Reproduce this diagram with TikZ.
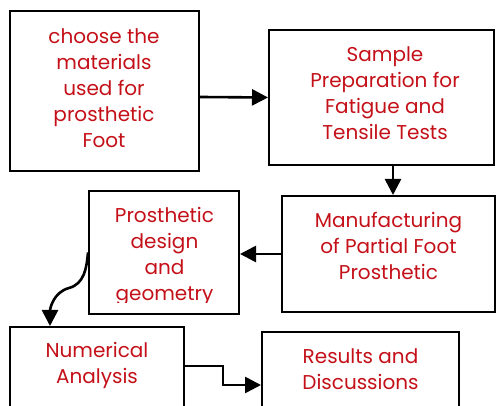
\documentclass[tikz,border=0pt]{standalone}
\usepackage{fontspec}
\setmainfont{Poppins}
\usetikzlibrary{arrows.meta,calc}
\definecolor{txtred}{RGB}{196,16,24}
\tikzset{
  boxnode/.style={draw=black,line width=2pt,rectangle,inner sep=0pt},
  lbl/.style={text=txtred,align=center,inner sep=0pt,anchor=base,
    font=\fontsize{20}{26}\selectfont},
  arr/.style={line width=2.6pt,-{Triangle[length=16pt,width=16pt]}}
}
\begin{document}
\begin{tikzpicture}[x=1pt,y=1pt]
\useasboundingbox (0,0) rectangle (496,406);
\clip (0,0) rectangle (496,406);
\node[boxnode,minimum width=189pt,minimum height=160pt] (b1) at (104.5,315) {};
\node[boxnode,minimum width=225pt,minimum height=135pt] (b2) at (381.5,308.5) {};
\node[boxnode,minimum width=213pt,minimum height=116pt] (b3) at (388.5,152) {};
\node[boxnode,minimum width=150pt,minimum height=123pt] (b4) at (164,153.5) {};
\node[boxnode,minimum width=174pt,minimum height=103pt] (b5) at (97,27.5) {};
\node[boxnode,minimum width=197pt,minimum height=98pt] (b6) at (360.5,25) {};

\node[lbl] (t1) at (104,258) {choose the\\materials\\used for\\prosthetic\\Foot};
\node[lbl] (t2) at (385,266) {Sample\\Preparation for\\Fatigue and\\Tensile Tests};
\node[lbl] (t3) at (388.5,126) {Manufacturing\\of Partial Foot\\Prosthetic};
\begin{scope}
\clip (89,103.3) rectangle (239,215);
\node[lbl] (t4) at (164.5,105.3) {Prosthetic\\design\\and\\geometry};
\end{scope}
\node[lbl] (t5) at (97,22) {Numerical\\Analysis};
\node[lbl] (t6) at (360.5,16) {Results and\\Discussions};

\draw[arr] ([yshift=-6pt]b1.east) -- (b2.west);
\draw[arr] ([xshift=11.5pt]b2.south) -- ([xshift=4.5pt]b3.north);
\draw[arr] (b3.west) -- (b3.west -| b4.east);
\draw[arr] (b4.west) to[out=-95,in=15] (69,118) to[out=195,in=90] (b5.north -| 50,0);
\draw[arr] ($(b5.north east)+(0,-40)$) -- ++(38,0) |- ($(b6.north west)+(0,-54)$);
\end{tikzpicture}
\end{document}
